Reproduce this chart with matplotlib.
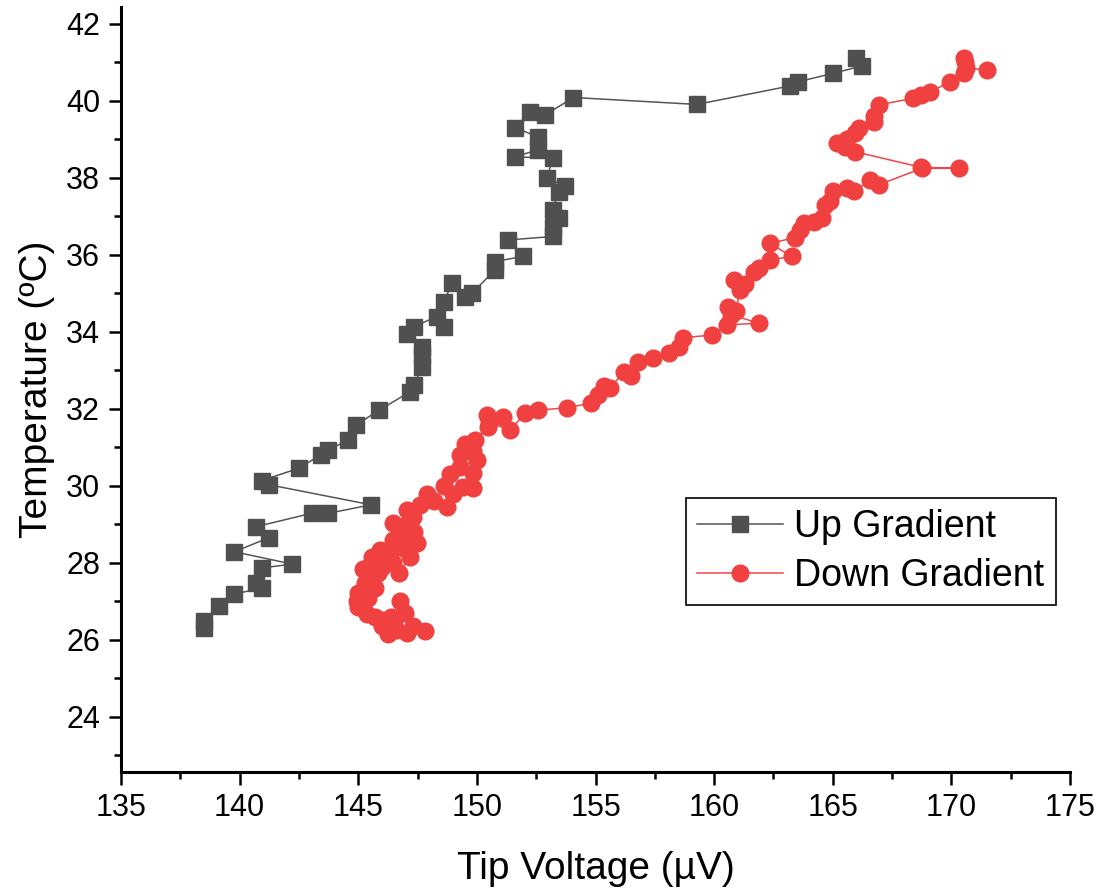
import numpy as np
import matplotlib
matplotlib.use('Agg')
import matplotlib.pyplot as plt
from matplotlib.ticker import MultipleLocator

plt.rcParams['font.family'] = ['Liberation Sans', 'DejaVu Sans']

# tip voltage (uV) vs temperature (C), heating run
up_v = [138.51, 138.51, 139.14, 139.78, 140.93, 140.68, 140.93, 142.22, 139.78, 141.25,
        140.68, 143.04, 143.74, 145.54, 141.25, 140.93, 142.50, 143.42, 143.74, 144.58,
        144.90, 145.88, 147.20, 147.36, 147.67, 147.67, 147.67, 147.04, 147.36, 148.31,
        148.63, 148.63, 148.94, 149.50, 149.78, 150.77, 150.77, 151.93, 151.33, 153.20,
        153.20, 153.44, 153.20, 153.44, 153.72, 152.95, 153.20, 151.61, 152.56, 152.56,
        151.61, 152.24, 152.88, 154.07, 159.27, 163.20, 163.55, 165.03, 166.23, 165.99]
up_t = [26.30, 26.48, 26.87, 27.19, 27.35, 27.48, 27.87, 27.97, 28.29, 28.66,
        28.94, 29.29, 29.29, 29.51, 30.03, 30.14, 30.46, 30.81, 30.94, 31.19,
        31.58, 31.97, 32.45, 32.62, 33.09, 33.40, 33.62, 33.95, 34.14, 34.40,
        34.14, 34.79, 35.28, 34.92, 35.00, 35.61, 35.83, 35.96, 36.39, 36.48,
        36.73, 36.95, 37.17, 37.64, 37.79, 37.99, 38.51, 38.55, 38.73, 39.07,
        39.31, 39.72, 39.64, 40.09, 39.91, 40.39, 40.50, 40.72, 40.91, 41.11]

# cooling run
down_v = [147.80, 147.30, 147.04, 146.60, 146.27, 146.00, 146.50, 146.97, 146.76, 146.40,
          146.06, 145.70, 145.36, 145.00, 144.94, 145.01, 145.40, 145.29, 145.70, 145.85,
          145.22, 145.50, 146.00, 145.60, 145.92, 146.30, 146.48, 146.70, 147.19, 146.90,
          146.48, 147.00, 147.47, 147.33, 146.80, 146.48, 147.04, 147.30, 147.04, 147.61,
          147.89, 148.20, 148.73, 149.00, 148.60, 148.87, 149.43, 149.85, 149.85, 149.30,
          149.99, 149.29, 149.85, 149.50, 149.90, 150.48, 150.41, 151.10, 150.50, 151.40,
          152.03, 152.59, 153.79, 154.80, 155.10, 155.35, 155.60, 156.20, 156.50, 156.81,
          157.44, 158.10, 158.50, 158.70, 159.90, 160.53, 161.87, 160.70, 160.60, 160.90,
          161.10, 160.82, 161.30, 161.66, 161.90, 162.36, 163.27, 162.36, 163.40, 163.63,
          163.77, 164.20, 164.55, 164.68, 164.90, 165.00, 165.60, 165.90, 166.58, 166.93,
          168.75, 170.30, 168.70, 165.95, 165.50, 165.18, 165.60, 165.95, 166.10, 166.72,
          166.72, 166.93, 168.40, 168.70, 169.11, 169.95, 170.51, 170.58, 170.51, 170.60,
          171.49]
down_t = [26.22, 26.35, 26.17, 26.25, 26.15, 26.35, 26.45, 26.69, 27.00, 26.60,
          26.52, 26.60, 26.68, 26.85, 27.00, 27.21, 27.10, 27.47, 27.35, 27.73,
          27.85, 27.95, 27.90, 28.15, 28.34, 28.20, 28.00, 27.75, 28.16, 28.40,
          28.60, 28.55, 28.51, 28.80, 28.85, 29.05, 29.00, 29.20, 29.38, 29.50,
          29.80, 29.60, 29.46, 29.80, 30.00, 30.30, 29.98, 29.95, 30.33, 30.50,
          30.68, 30.80, 30.90, 31.10, 31.20, 31.54, 31.85, 31.80, 31.65, 31.45,
          31.89, 31.97, 32.03, 32.15, 32.35, 32.60, 32.55, 32.95, 32.85, 33.23,
          33.32, 33.45, 33.62, 33.85, 33.92, 34.18, 34.23, 34.45, 34.66, 34.55,
          35.09, 35.35, 35.25, 35.55, 35.65, 35.87, 35.96, 36.30, 36.45, 36.65,
          36.82, 36.85, 36.95, 37.30, 37.40, 37.65, 37.75, 37.65, 37.95, 37.82,
          38.25, 38.25, 38.28, 38.68, 38.80, 38.92, 39.00, 39.16, 39.30, 39.45,
          39.62, 39.90, 40.07, 40.15, 40.24, 40.50, 40.72, 41.02, 41.12, 40.85,
          40.81]

fig = plt.figure(figsize=(11.02, 8.90), dpi=100)
ax = fig.add_axes([0.1098, 0.1326, 0.8612, 0.8595])

ax.plot(up_v, up_t, color='#555555', lw=1.1, marker='s', ms=12,
        mfc='#505050', mec='#505050', label='Up Gradient')
ax.plot(down_v, down_t, color='#F04545', lw=1.1, marker='o', ms=12,
        mfc='#F04040', mec='#F04040', label='Down Gradient')

ax.set_xlim(135, 175)
ax.set_ylim(22.57, 42.44)
ax.xaxis.set_major_locator(MultipleLocator(5))
ax.xaxis.set_minor_locator(MultipleLocator(2.5))
ax.yaxis.set_major_locator(MultipleLocator(2))
ax.yaxis.set_minor_locator(MultipleLocator(1))

for side in ['top', 'right']:
    ax.spines[side].set_visible(False)
for side in ['left', 'bottom']:
    ax.spines[side].set_linewidth(2.2)

ax.tick_params(which='major', direction='out', length=9, width=1.8)
ax.tick_params(which='minor', direction='out', length=5, width=1.8)
ax.tick_params(axis='x', labelsize=22, pad=6)
ax.tick_params(axis='y', labelsize=22, pad=6)

ax.set_xlabel('Tip Voltage (µV)', fontsize=28, labelpad=20)
ax.set_ylabel('Temperature (ºC)', fontsize=28, labelpad=8)

leg = ax.legend(loc='lower left', bbox_to_anchor=(0.595, 0.218), fontsize=27,
                frameon=True, fancybox=False, edgecolor='black', framealpha=1,
                handlelength=2.3, handletextpad=0.3, labelspacing=0.35,
                borderpad=0.3, borderaxespad=0)
leg.get_frame().set_linewidth(1.2)

fig.savefig('out.png', dpi=100)
